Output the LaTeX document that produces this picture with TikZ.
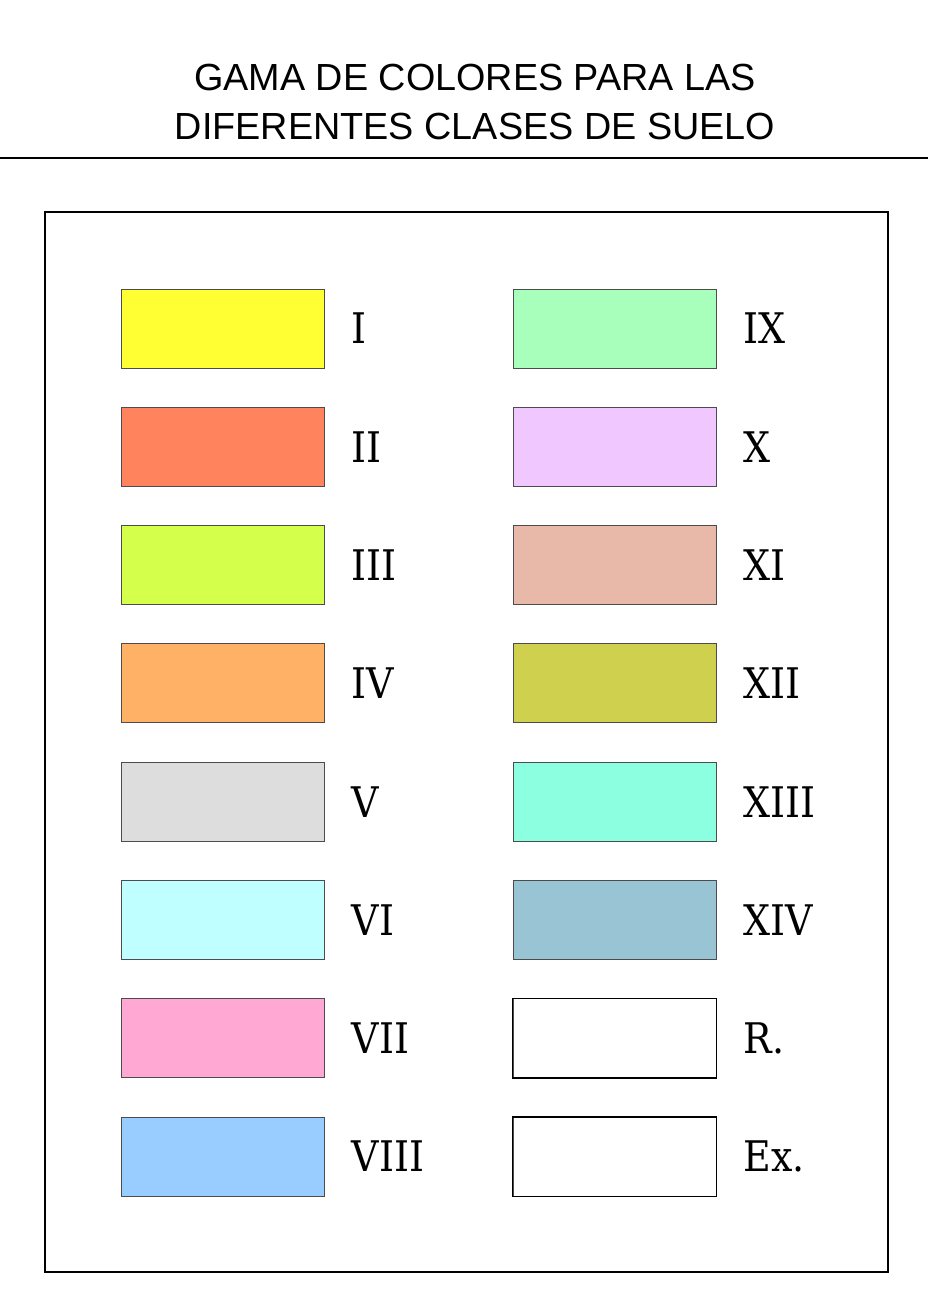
\documentclass[tikz,border=0pt]{standalone}
\usepackage{fontspec}
\newfontfamily\titlefont{Liberation Sans}
\newfontfamily\labelfont{DejaVu Serif}[FakeStretch=0.9]
\usetikzlibrary{positioning}
\definecolor{clI}{HTML}{FFFF33}
\definecolor{clII}{HTML}{FF835C}
\definecolor{clIII}{HTML}{D4FF4A}
\definecolor{clIV}{HTML}{FFB266}
\definecolor{clV}{HTML}{DDDDDD}
\definecolor{clVI}{HTML}{C0FFFF}
\definecolor{clVII}{HTML}{FFA8D4}
\definecolor{clVIII}{HTML}{99CCFF}
\definecolor{clIX}{HTML}{A8FFBC}
\definecolor{clX}{HTML}{F0C8FF}
\definecolor{clXI}{HTML}{E8B8A8}
\definecolor{clXII}{HTML}{D0D04F}
\definecolor{clXIII}{HTML}{8CFFE0}
\definecolor{clXIV}{HTML}{99C4D4}
\begin{document}
\begin{tikzpicture}[
  x=0.02cm, y=-0.02cm,
  swatch/.style={draw=black!70, line width=0.5pt, minimum width=4.06cm,
    minimum height=1.58cm, inner sep=0pt},
  classlabel/.style={font=\labelfont\fontsize{24}{29}\selectfont, anchor=west, inner sep=0pt}
]
  \useasboundingbox (0,0) rectangle (928,1290);

  % title and rule
  \node[font=\titlefont\fontsize{21.5}{27.9}\selectfont, align=center] (title) at (475,102)
    {GAMA DE COLORES PARA LAS\\DIFERENTES CLASES DE SUELO};
  \coordinate (rulel) at (0,158);
  \coordinate (ruler) at (928,158);
  \draw[line width=1pt] (rulel) -- (ruler);

  % frame
  \draw[line width=1.1pt] (45,212) rectangle (888,1272);

  % left column
  \foreach \fillcol/\txt [count=\i] in {clI/I, clII/II, clIII/III, clIV/IV,
      clV/V, clVI/VI, clVII/VII, clVIII/VIII} {
    \node[swatch, fill=\fillcol] (swl\i) at (222.5,{328.5+118.3*(\i-1)}) {};
    \node[classlabel, right=0.54cm of swl\i] (labl\i) {\txt};
  }

  % right column
  \foreach \fillcol/\txt [count=\i] in {clIX/IX, clX/X, clXI/XI, clXII/XII,
      clXIII/XIII, clXIV/XIV, white/R., white/Ex.} {
    \node[swatch, fill=\fillcol] (swr\i) at (614.5,{328.5+118.3*(\i-1)}) {};
    \node[classlabel, right=0.54cm of swr\i] (labr\i) {\txt};
  }
  \draw[line width=1pt] (swr7.north west) rectangle (swr7.south east);
  \draw[line width=1pt] (swr8.north west) rectangle (swr8.south east);

\end{tikzpicture}
\end{document}
